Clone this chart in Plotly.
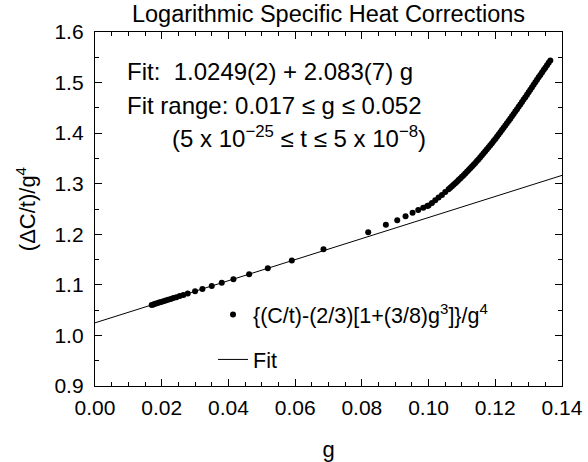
import plotly.graph_objects as go

# ---- data ----
g_vals = [0.0170, 0.0175, 0.0180, 0.0186, 0.0192, 0.0198, 0.0205, 0.0212, 0.0219, 0.0227,
          0.0235, 0.0244, 0.0254, 0.0265, 0.0278, 0.0300, 0.0322, 0.0350, 0.0380, 0.0415,
          0.0462, 0.0518, 0.0590, 0.0685, 0.0819, 0.0872, 0.0906, 0.0931, 0.0952, 0.0969,
          0.0984, 0.0996,
          0.1000, 0.1010, 0.1020, 0.1030, 0.1040, 0.1050, 0.1060, 0.1065, 0.1070, 0.1075,
          0.1080, 0.1085, 0.1090, 0.1095, 0.1100, 0.1105, 0.1110, 0.1115, 0.1120, 0.1125,
          0.1130, 0.1135, 0.1140, 0.1145, 0.1150, 0.1155, 0.1160, 0.1165, 0.1170, 0.1175,
          0.1180, 0.1185, 0.1190, 0.1195, 0.1200, 0.1205, 0.1210, 0.1215, 0.1220, 0.1225,
          0.1230, 0.1235, 0.1240, 0.1245, 0.1250, 0.1255, 0.1260, 0.1265, 0.1270, 0.1275,
          0.1280, 0.1285, 0.1290, 0.1295, 0.1300, 0.1305, 0.1310, 0.1315, 0.1320, 0.1325,
          0.1330, 0.1335, 0.1340, 0.1345, 0.1350, 0.1355, 0.1360, 0.1365]
dc_vals = [1.0603, 1.0614, 1.0624, 1.0636, 1.0649, 1.0661, 1.0676, 1.0691, 1.0705, 1.0722,
           1.0739, 1.0757, 1.0778, 1.0801, 1.0828, 1.0874, 1.0920, 1.0978, 1.1041, 1.1113,
           1.1211, 1.1328, 1.1480, 1.1705, 1.2040, 1.2190, 1.2277, 1.2356, 1.2427, 1.2480,
           1.2525, 1.2558,
           1.2570, 1.2620, 1.2672, 1.2725, 1.2779, 1.2834, 1.2891, 1.2920, 1.2950, 1.2980,
           1.3010, 1.3041, 1.3072, 1.3104, 1.3136, 1.3169, 1.3202, 1.3236, 1.3270, 1.3305,
           1.3340, 1.3376, 1.3412, 1.3449, 1.3486, 1.3524, 1.3562, 1.3601, 1.3640, 1.3680,
           1.3720, 1.3761, 1.3802, 1.3844, 1.3886, 1.3929, 1.3972, 1.4016, 1.4060, 1.4105,
           1.4150, 1.4195, 1.4241, 1.4287, 1.4333, 1.4379, 1.4426, 1.4473, 1.4520, 1.4567,
           1.4615, 1.4663, 1.4711, 1.4759, 1.4808, 1.4857, 1.4906, 1.4955, 1.5005, 1.5055,
           1.5105, 1.5152, 1.5200, 1.5247, 1.5295, 1.5342, 1.5390, 1.5437]

fit_g = [0.0, 0.14]
fit_vals = [1.0249, 1.3165]

x_ticks = [0.00, 0.02, 0.04, 0.06, 0.08, 0.10, 0.12, 0.14]
y_ticks = [0.9, 1.0, 1.1, 1.2, 1.3, 1.4, 1.5, 1.6]

FONT = "Liberation Sans, Arial, Helvetica, sans-serif"

fig = go.Figure()
fig.add_trace(go.Scatter(
    x=g_vals, y=dc_vals, mode="markers",
    marker=dict(color="black", size=6, line=dict(width=0)),
    name="{(C/t)-(2/3)[1+(3/8)g<sup>3</sup>]}/g<sup>4</sup>",
    legendgroup="a",
))
fig.add_trace(go.Scatter(
    x=fit_g, y=fit_vals, mode="lines",
    line=dict(color="black", width=1),
    name="Fit", legendgroup="b",
))

axis_common = dict(
    showline=True, linecolor="black", linewidth=1.3, mirror="ticks",
    ticks="inside", ticklen=7, tickwidth=1, tickcolor="black",
    showgrid=False, zeroline=False,
    tickfont=dict(family=FONT, size=21, color="black"),
)

fig.update_xaxes(
    range=[0, 0.14], tickvals=x_ticks, tickformat=".2f", ticklabelstandoff=3,
    minor=dict(dtick=0.005, ticks="inside", ticklen=4, tickcolor="black", tickwidth=1),
    title=dict(text="g", font=dict(family=FONT, size=22, color="black"), standoff=24),
    **axis_common,
)
fig.update_yaxes(
    range=[0.9, 1.6], tickvals=y_ticks, tickformat=".1f", ticklabelstandoff=6,
    minor=dict(dtick=0.05, ticks="inside", ticklen=4, tickcolor="black", tickwidth=1),
    title=dict(text="(ΔC/t)/g<sup>4</sup>", font=dict(family=FONT, size=22, color="black"), standoff=12),
    **axis_common,
)

def px(xp):
    return (xp - 95) / 467.0

def py(yp):
    return (386 - yp) / 354.0

ann_font = dict(family=FONT, size=24, color="black")
fig.add_annotation(x=px(125), y=py(72), xref="paper", yref="paper", xanchor="left", yanchor="middle",
                   text="Fit:  1.0249(2) + 2.083(7) g", showarrow=False, font=ann_font)
fig.add_annotation(x=px(125), y=py(106), xref="paper", yref="paper", xanchor="left", yanchor="middle",
                   text="Fit range: 0.017 ≤ g ≤ 0.052", showarrow=False, font=ann_font)
fig.add_annotation(x=px(170), y=py(137), xref="paper", yref="paper", xanchor="left", yanchor="middle",
                   text="(5 x 10<sup>−25</sup> ≤ t ≤ 5 x 10<sup>−8</sup>)", showarrow=False, font=ann_font)

fig.update_layout(
    width=588, height=462,
    margin=dict(l=95, r=26, t=32, b=76, autoexpand=False),
    paper_bgcolor="white", plot_bgcolor="white",
    title=dict(text="Logarithmic Specific Heat Corrections", x=0.5, xanchor="center",
               xref="paper", y=1 - 14 / 462.0, yanchor="middle",
               font=dict(family=FONT, size=23.5, color="black")),
    showlegend=True,
    legend=dict(x=px(213), y=py(294), xanchor="left", yanchor="top",
                bgcolor="rgba(0,0,0,0)", borderwidth=0,
                font=dict(family=FONT, size=21.5, color="black"),
                traceorder="grouped", tracegroupgap=14),
    font=dict(family=FONT, color="black"),
)

fig.write_html("out.html")
